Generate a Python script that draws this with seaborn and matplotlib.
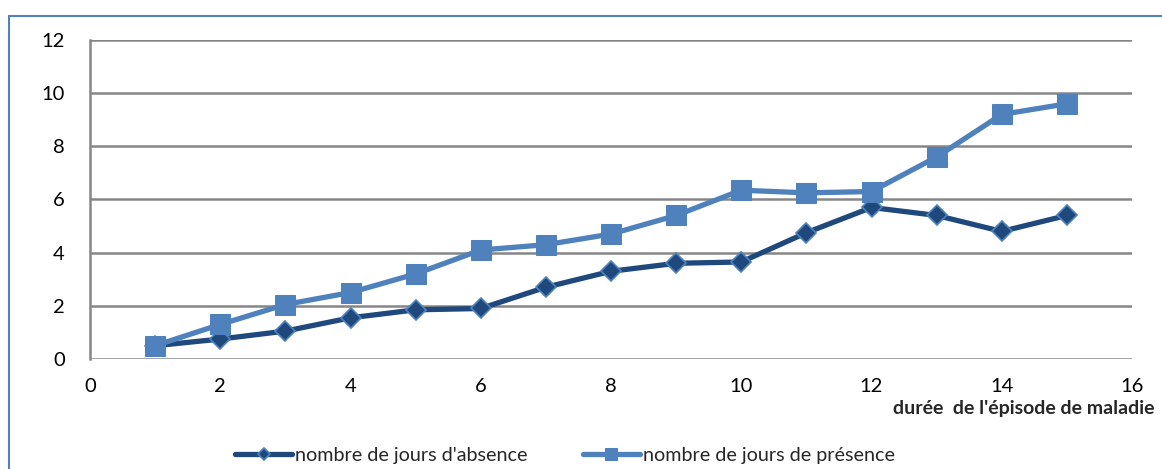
import pandas as pd
import matplotlib.pyplot as plt
import seaborn as sns
from matplotlib.patches import Rectangle

# Data
duree = list(range(1, 16))
absence = [0.5, 0.75, 1.05, 1.55, 1.85, 1.9, 2.7, 3.3, 3.6, 3.65, 4.75, 5.7, 5.4, 4.8, 5.4]
presence = [0.5, 1.3, 2.05, 2.5, 3.2, 4.1, 4.3, 4.7, 5.4, 6.35, 6.25, 6.3, 7.6, 9.2, 9.6]

lab_abs = "nombre de jours d'absence"
lab_pres = "nombre de jours de présence"

df = pd.DataFrame({"duree": duree, "absence": absence, "presence": presence})

sns.set_style("white")
plt.rcParams["font.family"] = ["Lato", "DejaVu Sans"]

fig = plt.figure(figsize=(11.62, 4.69), dpi=100)
ax = fig.add_axes([90 / 1162, 1 - 359 / 469, (1132 - 90) / 1162, (359 - 40) / 469])

sns.lineplot(data=df, x="duree", y="absence", ax=ax, color="#1F497D", lw=3.8,
             marker="D", markersize=10, markeredgecolor="#4F81BD", markeredgewidth=1.2,
             label=lab_abs, legend=False)
sns.lineplot(data=df, x="duree", y="presence", ax=ax, color="#4F81BD", lw=3.8,
             marker="s", markersize=14, markeredgecolor="#4F81BD",
             label=lab_pres, legend=False)

ax.set_xlim(0, 16)
ax.set_ylim(0, 12)
ax.set_xticks(range(0, 17, 2))
ax.set_yticks(range(0, 13, 2))
ax.tick_params(axis="both", labelsize=14.5, length=0, colors="black")
ax.tick_params(axis="x", pad=14)
ax.tick_params(axis="y", pad=18)
ax.yaxis.grid(True, color="#868686", lw=1.8)
ax.set_axisbelow(True)
for s in ["top", "right", "bottom"]:
    ax.spines[s].set_visible(False)
ax.spines["left"].set_color("#868686")
ax.spines["left"].set_linewidth(1.8)
ax.set_xlabel("")
ax.set_ylabel("")

fig.text(893 / 1162, 1 - 408 / 469, "durée  de l'épisode de maladie",
         fontsize=14, fontweight="bold", ha="left", va="center")

h, l = ax.get_legend_handles_labels()
fig.legend(h, l, loc="center", bbox_to_anchor=(565 / 1162, 1 - 455 / 469), ncol=2,
           frameon=False, fontsize=14.2, handlelength=2.9, handletextpad=0.15,
           columnspacing=2.8, markerscale=0.6)

# blue outer frame of the chart
fig.patches.append(Rectangle((9 / 1162, -0.1), 1.2, 1 - 16 / 469 + 0.1,
                             transform=fig.transFigure, fill=False,
                             edgecolor="#4F81BD", lw=1.5))

fig.savefig("out.png", dpi=100)
